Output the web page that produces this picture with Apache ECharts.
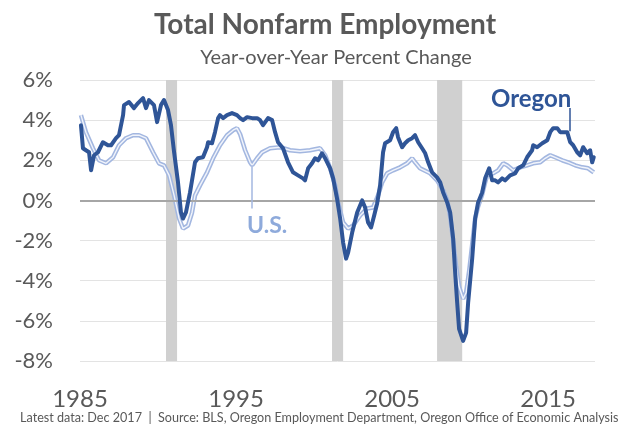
<!DOCTYPE html>
<html>
<head>
<meta charset="utf-8">
<script src="https://cdn.jsdelivr.net/npm/echarts@6/dist/echarts.min.js"></script>
<style>
  html, body { margin: 0; padding: 0; background: #ffffff; }
  #chart { width: 636px; height: 425px; }
</style>
</head>
<body>
<div id="chart"></div>
<script>
// Year-over-year percent change in total nonfarm employment (decimal years)
const oregonYears = [
  1985.06, 1985.19, 1985.38, 1985.58, 1985.71, 1985.90, 1986.15, 1986.47, 1986.79, 1986.99,
  1987.31, 1987.50, 1987.76, 1987.82, 1988.14, 1988.46, 1988.72, 1989.04, 1989.23, 1989.42,
  1989.74, 1989.94, 1990.19, 1990.38, 1990.64, 1990.83, 1991.03, 1991.28, 1991.47, 1991.60,
  1991.79, 1992.05, 1992.37, 1992.56, 1992.88, 1993.14, 1993.21, 1993.46, 1993.65, 1993.85,
  1993.97, 1994.17, 1994.42, 1994.74, 1995.06, 1995.26, 1995.45, 1995.71, 1996.03, 1996.35,
  1996.54, 1996.73, 1997.05, 1997.31, 1997.50, 1997.69, 1998.01, 1998.33, 1998.65, 1998.97,
  1999.29, 1999.42, 1999.62, 1999.87, 2000.06, 2000.26, 2000.51, 2000.71, 2001.03, 2001.22,
  2001.47, 2001.67, 2001.86, 2002.05, 2002.18, 2002.44, 2002.76, 2003.08, 2003.27, 2003.46,
  2003.65, 2003.85, 2004.04, 2004.23, 2004.42, 2004.55, 2004.87, 2005.06, 2005.26, 2005.38,
  2005.64, 2005.83, 2006.03, 2006.28, 2006.47, 2006.67, 2006.92, 2007.12, 2007.31, 2007.56,
  2007.88, 2008.08, 2008.27, 2008.53, 2008.72, 2008.91, 2009.04, 2009.17, 2009.29, 2009.55,
  2009.74, 2009.87, 2010.13, 2010.32, 2010.51, 2010.77, 2010.96, 2011.22, 2011.41, 2011.60,
  2011.79, 2012.05, 2012.24, 2012.56, 2012.88, 2013.08, 2013.40, 2013.65, 2013.97, 2014.04,
  2014.29, 2014.62, 2014.94, 2015.13, 2015.32, 2015.58, 2015.77, 2015.96, 2016.22, 2016.41,
  2016.60, 2016.86, 2017.05, 2017.24, 2017.50, 2017.69, 2017.82, 2017.92
];
const oregonValues = [
  3.75, 2.6, 2.5, 2.4, 1.5, 2.25, 2.4, 2.9, 2.75, 2.75,
  3.1, 3.25, 4.25, 4.75, 4.9, 4.6, 4.85, 5.1, 4.6, 5.0,
  4.75, 3.9, 4.75, 5.0, 4.5, 3.75, 2.4, 0.9, -0.6, -0.9,
  -0.6, 0.4, 1.9, 2.1, 2.15, 2.65, 2.9, 2.85, 3.4, 4.1,
  4.25, 4.1, 4.25, 4.35, 4.25, 4.1, 4.0, 4.15, 4.1, 4.1,
  4.0, 3.75, 4.1, 4.0, 3.4, 2.9, 2.6, 1.9, 1.4, 1.25,
  1.1, 1.0, 1.6, 1.85, 2.1, 2.0, 2.35, 2.1, 1.6, 1.1,
  0.1, -0.9, -2.1, -2.9, -2.6, -1.6, -0.6, 0.0, -0.35, -1.1,
  -1.35, -0.75, -0.15, 0.75, 2.4, 2.85, 3.0, 3.4, 3.6, 3.15,
  2.65, 2.85, 3.0, 3.1, 3.25, 2.9, 2.6, 2.35, 1.9, 1.4,
  1.15, 0.9, 0.4, -0.1, -0.6, -1.9, -3.6, -5.1, -6.4, -7.0,
  -6.6, -5.1, -2.9, -0.9, -0.1, 0.4, 1.1, 1.6, 1.0, 1.0,
  0.9, 1.1, 1.0, 1.25, 1.35, 1.6, 1.75, 2.15, 2.5, 2.75,
  2.65, 2.85, 3.0, 3.4, 3.6, 3.6, 3.4, 3.4, 3.4, 2.9,
  2.75, 2.4, 2.25, 2.65, 2.35, 2.5, 1.9, 2.15
];

const usYears = [
  1985.06, 1985.38, 1985.83, 1986.22, 1986.67, 1987.12, 1987.50, 1987.95, 1988.40, 1988.78,
  1989.23, 1989.68, 1990.06, 1990.38, 1990.71, 1991.03, 1991.35, 1991.60, 1991.92, 1992.18,
  1992.37, 1992.69, 1993.14, 1993.53, 1993.97, 1994.42, 1994.81, 1995.06, 1995.26, 1995.58,
  1995.90, 1996.03, 1996.35, 1996.67, 1997.18, 1997.82, 1998.46, 1999.10, 1999.74, 2000.38,
  2000.71, 2001.03, 2001.35, 2001.54, 2001.86, 2002.18, 2002.50, 2002.95, 2003.40, 2003.78,
  2004.10, 2004.36, 2004.68, 2005.06, 2005.51, 2005.96, 2006.28, 2006.47, 2006.79, 2007.44,
  2007.88, 2008.27, 2008.53, 2008.72, 2008.91, 2009.10, 2009.29, 2009.55, 2009.74, 2009.94,
  2010.13, 2010.32, 2010.51, 2010.77, 2010.96, 2011.09, 2011.47, 2011.79, 2012.12, 2012.37,
  2012.76, 2013.21, 2013.65, 2014.04, 2014.49, 2014.81, 2015.13, 2015.45, 2015.90, 2016.28,
  2016.73, 2017.18, 2017.56, 2017.92
];
const usValues = [
  4.25, 3.4, 2.6, 2.0, 1.85, 2.15, 2.75, 3.1, 3.25, 3.25,
  3.1, 2.4, 1.85, 1.75, 1.25, 0.25, -0.9, -1.4, -1.25, -0.6,
  0.25, 0.75, 1.4, 2.1, 2.75, 3.25, 3.5, 3.6, 3.3, 2.5,
  1.9, 1.75, 2.1, 2.4, 2.6, 2.65, 2.5, 2.45, 2.5, 2.6,
  2.25, 1.6, 0.75, -0.1, -1.1, -1.4, -1.25, -0.75, -0.4, -0.35,
  0.25, 0.9, 1.35, 1.5, 1.65, 1.85, 2.1, 1.9, 1.6, 1.35,
  1.0, 0.5, 0.0, -0.8, -2.0, -3.3, -4.3, -4.9, -4.6, -3.5,
  -2.2, -0.9, -0.3, 0.3, 0.9, 1.25, 1.35, 1.5, 1.85, 1.75,
  1.5, 1.65, 1.75, 1.85, 1.9, 2.1, 2.25, 2.15, 2.0, 1.9,
  1.75, 1.65, 1.6, 1.4
];

// Recession periods (shaded)
const recessionStart = [1990.51, 2001.15, 2007.88];
const recessionEnd = [1991.22, 2001.86, 2009.49];

// Axis ticks
const yearTicks = [1985, 1995, 2005, 2015];
const percentTicks = [-8, -6, -4, -2, 0, 2, 4, 6];

const pair = (xs, ys) => xs.map((x, i) => [x, ys[i]]);

const FONT = 'Lato, "Open Sans", sans-serif';
const GREY = '#595959';
const OREGON = '#2f5597';
const US_EDGE = '#a3b7e0';
const US_CORE = '#f1f4fb';
const US_TEXT = '#8eaadb';

const chart = echarts.init(document.getElementById('chart'), null, { renderer: 'canvas' });

chart.setOption({
  animation: false,
  backgroundColor: '#ffffff',
  textStyle: { fontFamily: FONT },
  grid: { left: 80, right: 41, top: 80, bottom: 64, containLabel: false },
  xAxis: {
    type: 'value',
    min: yearTicks[0],
    max: 2018,
    interval: 10,
    axisLine: { show: false },
    axisTick: { show: false },
    splitLine: { show: false },
    axisLabel: {
      fontSize: 24,
      color: GREY,
      margin: 26,
      fontFamily: FONT,
      formatter: v => (yearTicks.includes(v) ? String(v) : '')
    }
  },
  yAxis: {
    type: 'value',
    min: percentTicks[0],
    max: percentTicks[percentTicks.length - 1],
    interval: 2,
    axisLine: { show: false },
    axisTick: { show: false },
    splitLine: { lineStyle: { color: '#e3e3e3', width: 1 } },
    axisLabel: {
      fontSize: 22,
      color: GREY,
      margin: 27,
      fontFamily: FONT,
      formatter: v => v + '%'
    }
  },
  series: [
    {
      name: 'Recessions',
      type: 'line',
      data: [],
      z: 1,
      silent: true,
      markArea: {
        silent: true,
        itemStyle: { color: '#d0d0d0' },
        data: recessionStart.map((s, i) => [
          { xAxis: s, yAxis: percentTicks[0] },
          { xAxis: recessionEnd[i], yAxis: percentTicks[percentTicks.length - 1] }
        ])
      },
      markLine: {
        silent: true,
        symbol: 'none',
        label: { show: false },
        lineStyle: { color: '#a6a6a6', width: 2, type: 'solid' },
        data: [{ yAxis: 0 }]
      }
    },
    {
      name: 'U.S.',
      type: 'line',
      data: pair(usYears, usValues),
      showSymbol: false,
      z: 3,
      lineStyle: { color: US_EDGE, width: 4.5 },
      markLine: {
        silent: true,
        symbol: 'none',
        label: { show: false },
        lineStyle: { color: US_EDGE, width: 1.5, type: 'solid' },
        data: [[{ coord: [1996.03, 1.75] }, { coord: [1996.03, -0.4] }]]
      },
      markPoint: {
        silent: true,
        symbolSize: 0,
        label: {
          show: true,
          position: 'inside',
          formatter: 'U.S.',
          fontSize: 23,
          fontWeight: 'bold',
          color: US_TEXT,
          fontFamily: FONT
        },
        data: [{ coord: [1996.99, -1.25] }]
      }
    },
    {
      name: 'U.S. core',
      type: 'line',
      data: pair(usYears, usValues),
      showSymbol: false,
      z: 4,
      silent: true,
      lineStyle: { color: US_CORE, width: 1.4 }
    },
    {
      name: 'Oregon',
      type: 'line',
      data: pair(oregonYears, oregonValues),
      showSymbol: false,
      z: 5,
      lineStyle: { color: OREGON, width: 4, join: 'round', cap: 'round' },
      markLine: {
        silent: true,
        symbol: 'none',
        label: { show: false },
        lineStyle: { color: OREGON, width: 1.5, type: 'solid' },
        data: [[{ coord: [2016.35, 3.45] }, { coord: [2016.35, 4.6] }]]
      },
      markPoint: {
        silent: true,
        symbolSize: 0,
        label: {
          show: true,
          position: 'inside',
          formatter: 'Oregon',
          fontSize: 24,
          fontWeight: 'bold',
          color: OREGON,
          fontFamily: FONT
        },
        data: [{ coord: [2013.91, 5.05] }]
      }
    }
  ],
  graphic: [
    {
      type: 'text',
      x: 325, y: 25,
      style: {
        text: 'Total Nonfarm Employment',
        fontSize: 28, fontWeight: 'bold', fill: GREY, fontFamily: FONT,
        textAlign: 'center', textVerticalAlign: 'middle'
      }
    },
    {
      type: 'text',
      x: 336, y: 58,
      style: {
        text: 'Year-over-Year Percent Change',
        fontSize: 20, fill: GREY, fontFamily: FONT,
        textAlign: 'center', textVerticalAlign: 'middle'
      }
    },
    {
      type: 'text',
      x: 20, y: 418,
      style: {
        text: 'Latest data: Dec 2017  |  Source: BLS, Oregon Employment Department, Oregon Office of Economic Analysis',
        fontSize: 12.6, fill: GREY, fontFamily: FONT,
        textAlign: 'left', textVerticalAlign: 'middle'
      }
    }
  ]
});
</script>
</body>
</html>
